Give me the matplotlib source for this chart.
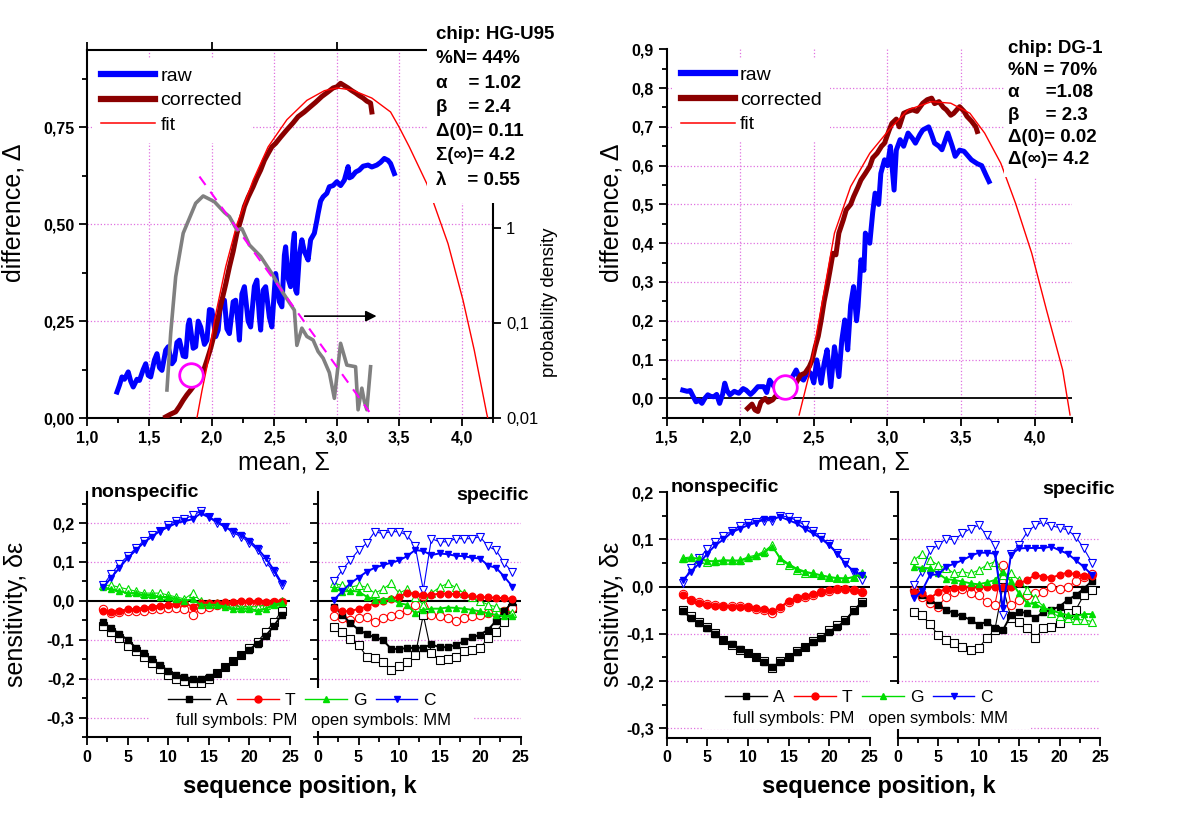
import matplotlib
matplotlib.use('Agg')
import matplotlib.pyplot as plt
from matplotlib.lines import Line2D
from matplotlib.patches import Rectangle
from matplotlib.ticker import MultipleLocator, FuncFormatter, FixedLocator, FixedFormatter, NullLocator

plt.rcParams['font.family'] = ['Liberation Sans', 'DejaVu Sans']

W, H = 1200, 825
fig = plt.figure(figsize=(12, 8.25), dpi=100)

BLUE = '#0000ff'
DRED = '#8b0000'
RED = '#ff0000'
GRAY = '#808080'
MAG = '#ff00ff'
GRID = '#e070e0'

# ---------------- top left: HG-U95 ----------------
hg_raw_x = [1.24, 1.26, 1.28, 1.30, 1.33, 1.35, 1.37, 1.40, 1.42, 1.45, 1.47, 1.49, 1.51, 1.54, 1.56,
            1.58, 1.60, 1.63, 1.65, 1.68, 1.70, 1.72, 1.74, 1.77, 1.79, 1.81, 1.82, 1.85, 1.87, 1.89,
            1.91, 1.94, 1.96, 1.98, 2.00, 2.03, 2.05, 2.07, 2.10, 2.12, 2.14, 2.17, 2.19, 2.21, 2.22,
            2.24, 2.26, 2.29, 2.31, 2.34, 2.36, 2.38, 2.39, 2.41, 2.43, 2.46, 2.48, 2.50, 2.51, 2.54,
            2.56, 2.58, 2.59, 2.61, 2.63, 2.65, 2.66, 2.67, 2.68, 2.70, 2.72, 2.74, 2.77, 2.79, 2.82,
            2.84, 2.85, 2.87, 2.89, 2.92, 2.94, 2.97, 3.00, 3.03, 3.06, 3.09, 3.10, 3.12, 3.15, 3.18,
            3.21, 3.25, 3.28, 3.32, 3.35, 3.38, 3.41, 3.43, 3.46]
hg_raw_y = [0.067, 0.085, 0.106, 0.100, 0.119, 0.095, 0.080, 0.100, 0.097, 0.125, 0.140, 0.110, 0.106, 0.150, 0.166,
            0.130, 0.123, 0.175, 0.184, 0.140, 0.149, 0.195, 0.201, 0.160, 0.158, 0.240, 0.253, 0.180, 0.184, 0.250,
            0.235, 0.190, 0.201, 0.280, 0.278, 0.210, 0.227, 0.300, 0.304, 0.230, 0.218, 0.300, 0.304, 0.240, 0.201,
            0.320, 0.339, 0.250, 0.235, 0.340, 0.356, 0.260, 0.227, 0.330, 0.339, 0.260, 0.235, 0.330, 0.373, 0.300,
            0.287, 0.420, 0.442, 0.360, 0.339, 0.450, 0.477, 0.330, 0.322, 0.420, 0.460, 0.430, 0.408, 0.460, 0.477,
            0.510, 0.528, 0.560, 0.571, 0.580, 0.597, 0.600, 0.610, 0.600, 0.614, 0.649, 0.620, 0.623, 0.635, 0.640,
            0.650, 0.653, 0.648, 0.653, 0.660, 0.670, 0.665, 0.657, 0.631]

hg_cor_x = [1.63, 1.67, 1.71, 1.74, 1.77, 1.80, 1.83, 1.86, 1.90, 1.93, 1.96, 1.99, 2.02, 2.05, 2.08, 2.11,
            2.14, 2.17, 2.20, 2.23, 2.26, 2.29, 2.33, 2.36, 2.39, 2.42, 2.45, 2.48, 2.51, 2.55, 2.60, 2.65,
            2.69, 2.74, 2.79, 2.83, 2.88, 2.93, 2.97, 3.00, 3.03, 3.06, 3.09, 3.12, 3.15, 3.18, 3.21, 3.24,
            3.27, 3.28]
hg_cor_y = [0.003, 0.010, 0.016, 0.030, 0.046, 0.060, 0.072, 0.085, 0.097, 0.120, 0.149, 0.180, 0.218, 0.260, 0.304, 0.345,
            0.390, 0.430, 0.477, 0.510, 0.546, 0.570, 0.597, 0.620, 0.640, 0.665, 0.683, 0.700, 0.709, 0.725, 0.744, 0.762,
            0.778, 0.790, 0.804, 0.815, 0.830, 0.842, 0.852, 0.855, 0.864, 0.858, 0.852, 0.845, 0.839, 0.832, 0.826, 0.818,
            0.813, 0.790]

hg_fit_x = [1.88, 1.92, 1.96, 2.02, 2.11, 2.20, 2.33, 2.45, 2.60, 2.76, 2.90, 3.00, 3.12, 3.28, 3.43, 3.50,
            3.58, 3.72, 3.89, 4.01, 4.10, 4.20, 4.215]
hg_fit_y = [0.000, 0.070, 0.132, 0.252, 0.390, 0.500, 0.614, 0.700, 0.770, 0.820, 0.845, 0.852, 0.847, 0.826, 0.790, 0.750,
            0.700, 0.605, 0.450, 0.304, 0.175, 0.011, -0.010]

hg_dens_x = [1.64, 1.67, 1.71, 1.77, 1.87, 1.93, 2.02, 2.10, 2.14, 2.20, 2.24, 2.30, 2.39, 2.48, 2.57, 2.66,
             2.68, 2.72, 2.76, 2.81, 2.85, 2.89, 2.94, 2.98, 3.03, 3.08, 3.15, 3.17, 3.20, 3.22, 3.24, 3.27]
hg_dens = [0.0197, 0.078, 0.306, 0.877, 1.81, 2.16, 1.88, 1.45, 1.31, 0.95, 0.98, 0.66, 0.50, 0.33, 0.206, 0.136,
           0.058, 0.088, 0.072, 0.066, 0.050, 0.0426, 0.030, 0.0161, 0.061, 0.036, 0.0346, 0.0122, 0.0206, 0.0150, 0.0122, 0.0346]
hg_exp_x = [1.90, 3.26]
hg_exp = [3.46, 0.0116]

hg_mark = (1.835, 0.111)
hg_arrow = (2.72, 3.34, 0.263)

# ---------------- top right: DG-1 ----------------
dg_raw = [(1.61, 0.021), (1.64, 0.018), (1.66, 0.020), (1.68, 0.005), (1.70, -0.009), (1.72, -0.005), (1.74, -0.013),
          (1.76, 0.000), (1.78, 0.009), (1.80, 0.005), (1.82, 0.004), (1.84, 0.010), (1.86, -0.013), (1.88, 0.010),
          (1.895, 0.039), (1.91, 0.020), (1.93, 0.009), (1.96, 0.018), (1.99, 0.013), (2.02, 0.025), (2.04, 0.021),
          (2.07, 0.010), (2.09, 0.017), (2.12, 0.030), (2.16, 0.030), (2.18, 0.015), (2.20, 0.047), (2.23, 0.030),
          (2.26, 0.038), (2.30, 0.030), (2.34, 0.045), (2.38, 0.073), (2.40, 0.055), (2.43, 0.047), (2.46, 0.070),
          (2.48, 0.064), (2.50, 0.040), (2.52, 0.099), (2.55, 0.039), (2.57, 0.090), (2.59, 0.125), (2.615, 0.030),
          (2.64, 0.133), (2.67, 0.056), (2.69, 0.150), (2.71, 0.202), (2.73, 0.125), (2.75, 0.240), (2.77, 0.288),
          (2.79, 0.200), (2.80, 0.236), (2.82, 0.357), (2.84, 0.330), (2.85, 0.426), (2.88, 0.400), (2.90, 0.480),
          (2.916, 0.529), (2.94, 0.500), (2.955, 0.580), (2.98, 0.615), (3.00, 0.600), (3.02, 0.650), (3.045, 0.537),
          (3.06, 0.640), (3.086, 0.667), (3.11, 0.650), (3.14, 0.684), (3.17, 0.670), (3.19, 0.658), (3.22, 0.680),
          (3.24, 0.692), (3.28, 0.700), (3.30, 0.680), (3.32, 0.658), (3.35, 0.650), (3.37, 0.641), (3.41, 0.684),
          (3.44, 0.650), (3.46, 0.624), (3.49, 0.640), (3.52, 0.637), (3.57, 0.615), (3.61, 0.605), (3.64, 0.600),
          (3.67, 0.575), (3.69, 0.559)]
dg_cor = [(2.05, -0.026), (2.08, -0.015), (2.10, -0.030), (2.12, -0.034), (2.14, -0.010), (2.17, 0.000), (2.19, -0.010),
          (2.22, -0.004), (2.25, 0.010), (2.27, 0.017), (2.31, 0.020), (2.35, 0.026), (2.38, 0.040), (2.41, 0.060),
          (2.44, 0.065), (2.47, 0.082), (2.49, 0.100), (2.51, 0.133), (2.53, 0.160), (2.55, 0.202), (2.57, 0.250),
          (2.59, 0.288), (2.61, 0.330), (2.63, 0.374), (2.65, 0.370), (2.67, 0.426), (2.70, 0.460), (2.72, 0.486),
          (2.75, 0.500), (2.77, 0.520), (2.80, 0.545), (2.82, 0.563), (2.85, 0.580), (2.88, 0.598), (2.90, 0.620),
          (2.93, 0.632), (2.96, 0.650), (2.98, 0.658), (3.01, 0.690), (3.03, 0.709), (3.06, 0.720), (3.08, 0.700),
          (3.11, 0.735), (3.14, 0.740), (3.17, 0.744), (3.20, 0.740), (3.24, 0.761), (3.27, 0.770), (3.30, 0.774),
          (3.32, 0.760), (3.35, 0.765), (3.38, 0.750), (3.40, 0.744), (3.43, 0.730), (3.45, 0.735), (3.49, 0.752),
          (3.52, 0.740), (3.54, 0.727), (3.57, 0.715), (3.60, 0.700), (3.61, 0.688)]
dg_fit = [(2.40, -0.043), (2.47, 0.064), (2.56, 0.254), (2.64, 0.426), (2.75, 0.546), (2.88, 0.632), (3.01, 0.692),
          (3.14, 0.744), (3.30, 0.765), (3.43, 0.761), (3.56, 0.735), (3.66, 0.684), (3.77, 0.606), (3.87, 0.503),
          (3.98, 0.374), (4.08, 0.228), (4.19, 0.073), (4.24, -0.043)]
dg_mark = (2.306, 0.028)

hg_info = ['chip: HG-U95', '%N= 44%', 'α    = 1.02', 'β    = 2.4',
           'Δ(0)= 0.11', 'Σ(∞)= 4.2', 'λ    = 0.55']
dg_info = ['chip: DG-1', '%N = 70%', 'α     =1.08', 'β     = 2.3',
           'Δ(0)= 0.02', 'Δ(∞)= 4.2']

# ---------------- bottom: sensitivity profiles ----------------
k = list(range(2, 25))
bases = ['A', 'T', 'G', 'C']
base_col = {'A': 'black', 'T': '#ff0000', 'G': '#00dd00', 'C': '#0000ff'}
base_mk = {'A': 's', 'T': 'o', 'G': '^', 'C': 'v'}

hg_ns_pm = {
    'A': [-0.055, -0.070, -0.085, -0.100, -0.120, -0.135, -0.150, -0.165, -0.180, -0.190, -0.195, -0.200, -0.200, -0.195, -0.185, -0.170, -0.155, -0.140, -0.125, -0.110, -0.090, -0.065, -0.035],
    'T': [-0.025, -0.028, -0.025, -0.022, -0.020, -0.018, -0.015, -0.012, -0.010, -0.008, -0.005, -0.015, -0.005, -0.005, -0.005, -0.003, -0.002, 0.000, 0.000, 0.000, -0.002, -0.003, -0.003],
    'G': [0.035, 0.030, 0.025, 0.020, 0.020, 0.015, 0.015, 0.010, 0.010, 0.005, 0.000, 0.005, -0.010, -0.010, -0.010, -0.015, -0.020, -0.020, -0.020, -0.025, -0.020, -0.010, -0.005],
    'C': [0.035, 0.060, 0.085, 0.110, 0.130, 0.150, 0.165, 0.180, 0.190, 0.200, 0.205, 0.210, 0.225, 0.215, 0.205, 0.190, 0.180, 0.170, 0.155, 0.135, 0.110, 0.080, 0.045],
}
hg_ns_mm = {
    'A': [-0.065, -0.080, -0.095, -0.115, -0.130, -0.145, -0.160, -0.175, -0.190, -0.200, -0.205, -0.210, -0.210, -0.200, -0.185, -0.170, -0.155, -0.140, -0.120, -0.105, -0.080, -0.055, -0.025],
    'T': [-0.022, -0.030, -0.028, -0.027, -0.025, -0.025, -0.022, -0.020, -0.018, -0.018, -0.020, -0.035, -0.022, -0.015, -0.010, -0.010, -0.008, -0.005, -0.005, -0.003, -0.005, -0.003, -0.003],
    'G': [0.040, 0.040, 0.035, 0.030, 0.025, 0.020, 0.020, 0.020, 0.015, 0.010, 0.005, 0.020, 0.000, -0.005, -0.005, -0.005, -0.010, -0.015, -0.015, -0.015, -0.010, -0.005, 0.000],
    'C': [0.040, 0.070, 0.095, 0.115, 0.135, 0.155, 0.170, 0.180, 0.195, 0.205, 0.210, 0.220, 0.230, 0.215, 0.200, 0.190, 0.175, 0.165, 0.150, 0.130, 0.100, 0.075, 0.040],
}
hg_sp_pm = {
    'A': [-0.015, -0.036, -0.057, -0.074, -0.085, -0.094, -0.100, -0.123, -0.124, -0.121, -0.121, -0.120, -0.112, -0.119, -0.119, -0.113, -0.104, -0.094, -0.087, -0.074, -0.051, -0.027, -0.002],
    'T': [-0.019, -0.026, -0.027, -0.020, -0.015, -0.006, 0.000, 0.005, 0.011, 0.020, 0.018, 0.015, 0.015, 0.019, 0.019, 0.017, 0.015, 0.012, 0.010, 0.009, 0.008, 0.007, 0.005],
    'G': [0.032, 0.024, 0.026, 0.024, 0.011, 0.003, 0.003, 0.007, -0.006, -0.010, -0.032, -0.023, -0.020, -0.020, -0.017, -0.018, -0.020, -0.023, -0.027, -0.032, -0.036, -0.040, -0.038],
    'C': [0.003, 0.025, 0.045, 0.060, 0.075, 0.085, 0.092, 0.098, 0.104, 0.115, 0.131, 0.128, 0.118, 0.122, 0.120, 0.116, 0.115, 0.111, 0.109, 0.091, 0.085, 0.062, 0.037],
}
hg_sp_mm = {
    'A': [-0.066, -0.080, -0.097, -0.113, -0.143, -0.147, -0.156, -0.177, -0.168, -0.156, -0.140, -0.036, -0.134, -0.151, -0.149, -0.143, -0.130, -0.126, -0.121, -0.096, -0.079, -0.053, -0.019],
    'T': [-0.038, -0.043, -0.049, -0.045, -0.042, -0.053, -0.045, -0.038, -0.033, -0.023, -0.010, 0.012, -0.036, -0.040, -0.045, -0.051, -0.045, -0.038, -0.035, -0.030, -0.030, -0.025, -0.017],
    'G': [0.045, 0.040, 0.035, 0.040, 0.035, 0.020, 0.030, 0.045, 0.020, 0.030, 0.010, -0.010, 0.020, 0.035, 0.045, 0.035, 0.020, 0.010, 0.000, -0.010, -0.015, -0.025, -0.030],
    'C': [0.050, 0.080, 0.105, 0.130, 0.148, 0.178, 0.173, 0.178, 0.178, 0.169, 0.140, 0.028, 0.160, 0.152, 0.152, 0.160, 0.160, 0.160, 0.165, 0.140, 0.130, 0.097, 0.074],
}
dg_ns_pm = {
    'A': [-0.052, -0.066, -0.078, -0.088, -0.100, -0.112, -0.122, -0.132, -0.140, -0.150, -0.160, -0.170, -0.160, -0.150, -0.138, -0.128, -0.118, -0.108, -0.095, -0.085, -0.072, -0.052, -0.035],
    'T': [-0.018, -0.029, -0.034, -0.038, -0.040, -0.041, -0.042, -0.042, -0.043, -0.046, -0.048, -0.052, -0.044, -0.030, -0.024, -0.020, -0.016, -0.011, -0.008, -0.005, -0.005, -0.008, -0.012],
    'G': [0.058, 0.060, 0.060, 0.055, 0.053, 0.055, 0.055, 0.055, 0.060, 0.064, 0.072, 0.085, 0.060, 0.048, 0.038, 0.032, 0.028, 0.024, 0.020, 0.018, 0.017, 0.020, 0.026],
    'C': [0.014, 0.032, 0.049, 0.070, 0.088, 0.100, 0.115, 0.123, 0.130, 0.136, 0.143, 0.144, 0.148, 0.141, 0.134, 0.123, 0.113, 0.102, 0.088, 0.070, 0.049, 0.033, 0.025],
}
dg_ns_mm = {
    'A': [-0.049, -0.063, -0.074, -0.085, -0.099, -0.113, -0.124, -0.134, -0.141, -0.148, -0.158, -0.172, -0.158, -0.148, -0.137, -0.127, -0.116, -0.106, -0.092, -0.081, -0.070, -0.049, -0.032],
    'T': [-0.016, -0.028, -0.033, -0.037, -0.039, -0.040, -0.040, -0.041, -0.042, -0.047, -0.049, -0.056, -0.046, -0.032, -0.025, -0.021, -0.018, -0.012, -0.009, -0.005, -0.004, -0.007, -0.011],
    'G': [0.061, 0.063, 0.058, 0.053, 0.055, 0.057, 0.056, 0.056, 0.063, 0.067, 0.075, 0.089, 0.056, 0.046, 0.035, 0.030, 0.028, 0.025, 0.021, 0.019, 0.018, 0.021, 0.030],
    'C': [0.008, 0.040, 0.060, 0.080, 0.095, 0.108, 0.118, 0.128, 0.135, 0.138, 0.140, 0.140, 0.150, 0.148, 0.140, 0.130, 0.118, 0.105, 0.090, 0.072, 0.052, 0.030, 0.015],
}
dg_sp_pm = {
    'A': [-0.011, -0.018, -0.028, -0.039, -0.049, -0.056, -0.063, -0.070, -0.081, -0.074, -0.088, -0.092, -0.060, -0.053, -0.056, -0.067, -0.053, -0.049, -0.042, -0.028, -0.018, -0.004, 0.012],
    'T': [-0.011, -0.014, -0.025, -0.011, -0.005, -0.002, 0.000, 0.000, 0.000, 0.000, 0.000, 0.000, 0.000, 0.007, 0.014, 0.025, 0.021, 0.019, 0.025, 0.030, 0.026, 0.023, 0.023],
    'G': [0.042, 0.040, 0.039, 0.028, 0.016, 0.014, 0.011, 0.007, 0.005, 0.009, 0.014, 0.032, 0.011, -0.014, -0.035, -0.037, -0.046, -0.049, -0.056, -0.060, -0.063, -0.058, -0.058],
    'C': [-0.025, -0.009, 0.025, 0.026, 0.042, 0.049, 0.056, 0.065, 0.072, 0.072, 0.070, -0.045, 0.068, 0.081, 0.082, 0.082, 0.082, 0.085, 0.077, 0.070, 0.056, 0.042, 0.025],
}
dg_sp_mm = {
    'A': [-0.053, -0.060, -0.080, -0.102, -0.113, -0.120, -0.127, -0.134, -0.130, -0.109, -0.092, 0.000, -0.067, -0.074, -0.088, -0.109, -0.088, -0.085, -0.077, -0.056, -0.049, -0.018, -0.007],
    'T': [-0.007, -0.021, -0.035, -0.042, -0.021, -0.011, -0.004, -0.014, -0.018, -0.032, -0.039, 0.046, -0.039, -0.028, -0.018, -0.014, -0.011, 0.000, -0.004, 0.000, 0.011, 0.021, 0.026],
    'G': [0.056, 0.070, 0.056, 0.046, 0.039, 0.028, 0.032, 0.028, 0.035, 0.046, 0.053, 0.025, 0.028, 0.014, -0.007, -0.025, -0.042, -0.056, -0.063, -0.067, -0.070, -0.070, -0.074],
    'C': [0.004, 0.032, 0.077, 0.088, 0.102, 0.099, 0.113, 0.123, 0.130, 0.109, 0.088, -0.060, 0.070, 0.088, 0.116, 0.130, 0.137, 0.129, 0.125, 0.120, 0.106, 0.081, 0.051],
}


def rect(x0, y0, x1, y1):
    # pixel box (origin top-left) -> figure fraction rect
    return [x0 / W, 1 - y1 / H, (x1 - x0) / W, (y1 - y0) / H]


def comma(fmt):
    return FuncFormatter(lambda v, p: fmt.format(round(v, 6) + 0.0).replace('.', ','))


def style(ax, xmaj, xmin, ymaj, ymin, xfmt, yfmt):
    for s in ['top', 'right']:
        ax.spines[s].set_visible(False)
    for s in ['left', 'bottom']:
        ax.spines[s].set_linewidth(1.5)
    ax.xaxis.set_major_locator(MultipleLocator(xmaj))
    ax.xaxis.set_minor_locator(MultipleLocator(xmin))
    ax.yaxis.set_major_locator(MultipleLocator(ymaj))
    ax.yaxis.set_minor_locator(MultipleLocator(ymin))
    ax.xaxis.set_major_formatter(comma(xfmt))
    ax.yaxis.set_major_formatter(comma(yfmt))
    ax.tick_params(which='both', direction='out', width=1.3, labelsize=11.5, pad=3)
    ax.tick_params(which='major', length=6)
    ax.tick_params(which='minor', length=3.5)


def fig_text(x, y, s, **kw):
    return fig.text(x / W, 1 - y / H, s, **kw)


def white_box(x0, y0, x1, y1):
    fig.patches.append(Rectangle((x0 / W, 1 - y1 / H), (x1 - x0) / W, (y1 - y0) / H,
                                 transform=fig.transFigure, facecolor='white',
                                 edgecolor='none', zorder=4))


def top_legend(ax, anchor):
    h = [Line2D([], [], color=BLUE, lw=4.5, label='raw'),
         Line2D([], [], color=DRED, lw=4.5, label='corrected'),
         Line2D([], [], color=RED, lw=1.1, label='fit')]
    ax.legend(handles=h, loc='upper left', bbox_to_anchor=anchor, borderaxespad=0,
              frameon=True, facecolor='white', edgecolor='none', framealpha=1,
              fontsize=14, handlelength=2.8, handletextpad=0.25, labelspacing=0.36,
              borderpad=0.45)


# ---- top-left axes
ax1 = fig.add_axes(rect(87, 50, 493, 418))
style(ax1, 0.5, 0.25, 0.25, 0.125, '{:.1f}', '{:.2f}')
ax1.set_xlim(1.0, 4.25)
ax1.set_ylim(0, 0.95)
for gx in [1.5, 2.0, 2.5, 3.0, 3.5, 4.0]:
    ax1.axvline(gx, color=GRID, ls=':', lw=0.9, zorder=0)
for gy in [0.25, 0.5, 0.75]:
    ax1.axhline(gy, color=GRID, ls=':', lw=0.9, zorder=0)
ax1.plot(hg_raw_x, hg_raw_y, color=BLUE, lw=3.6, zorder=3)
ax1.plot(hg_cor_x, hg_cor_y, color=DRED, lw=3.6, zorder=4)
ax1.plot(hg_fit_x, hg_fit_y, color=RED, lw=1.0, zorder=5)
ax1.plot([hg_mark[0]], [hg_mark[1]], 'o', ms=17, mfc='white', mec=MAG, mew=2, zorder=8)
ax1.annotate('', xy=(hg_arrow[1], hg_arrow[2]), xytext=(hg_arrow[0], hg_arrow[2]),
             arrowprops=dict(arrowstyle='-|>', color='black', lw=1.2, mutation_scale=16))
top1 = ax1.secondary_xaxis('top')
top1.set_xticks([1.0, 2.0, 3.0])
top1.set_xticklabels([])
top1.tick_params(direction='out', length=6, width=1.3)
top1.spines['top'].set_linewidth(1.5)
top_legend(ax1, (0.013, 0.977))

ax1b = ax1.twinx()
ax1b.set_yscale('log')
ax1b.set_ylim(0.01, 74)
for s in ['left', 'top', 'bottom']:
    ax1b.spines[s].set_visible(False)
ax1b.spines['right'].set_linewidth(1.5)
ax1b.spines['right'].set_bounds(0.01, 1.8)
ax1b.yaxis.set_major_locator(FixedLocator([0.01, 0.1, 1]))
ax1b.yaxis.set_major_formatter(FixedFormatter(['0,01', '0,1', '1']))
ax1b.yaxis.set_minor_locator(NullLocator())
ax1b.tick_params(direction='out', length=6, width=1.3, labelsize=12)
ax1b.plot(hg_dens_x, hg_dens, color=GRAY, lw=2.6)
ax1b.plot(hg_exp_x, hg_exp, color=MAG, lw=1.5, ls=(0, (5, 4)))

# ---- top-right axes
ax2 = fig.add_axes(rect(666.6, 49.3, 1071.5, 417.7))
style(ax2, 0.5, 0.25, 0.1, 0.05, '{:.1f}', '{:.1f}')
ax2.set_xlim(1.5, 4.25)
ax2.set_ylim(-0.05, 0.9)
for gx in [2.0, 2.5, 3.0, 3.5, 4.0]:
    ax2.axvline(gx, color=GRID, ls=':', lw=0.9, zorder=0)
for gy in [0.1, 0.2, 0.3, 0.4, 0.5, 0.6, 0.7, 0.8]:
    ax2.axhline(gy, color=GRID, ls=':', lw=0.9, zorder=0)
ax2.axhline(0, color='black', lw=1.3, zorder=1)
ax2.plot([p[0] for p in dg_raw], [p[1] for p in dg_raw], color=BLUE, lw=3.6, zorder=3)
ax2.plot([p[0] for p in dg_cor], [p[1] for p in dg_cor], color=DRED, lw=3.6, zorder=4)
ax2.plot([p[0] for p in dg_fit], [p[1] for p in dg_fit], color=RED, lw=1.0, zorder=5)
ax2.plot([dg_mark[0]], [dg_mark[1]], 'o', ms=17, mfc='white', mec=MAG, mew=2, zorder=8)
top_legend(ax2, (0.013, 0.977))

# info boxes
white_box(427, 8, 548, 203)
white_box(1004, 26, 1112, 177)
for i, line in enumerate(hg_info):
    fig_text(436, 39 + i * 24.3, line, fontsize=13.5, fontweight='bold', va='baseline', zorder=6)
for i, line in enumerate(dg_info):
    fig_text(1008, 53 + i * 22.2, line, fontsize=13.5, fontweight='bold', va='baseline', zorder=6)

# axis labels of the top panels
fig_text(14, 213, 'difference, Δ', rotation=90, ha='center', va='center', fontsize=18)
fig_text(612, 213, 'difference, Δ', rotation=90, ha='center', va='center', fontsize=18)
fig_text(284, 463, 'mean, Σ', ha='center', va='center', fontsize=18)
fig_text(864, 463, 'mean, Σ', ha='center', va='center', fontsize=18)
fig_text(550, 302, 'probability density', rotation=90, ha='center', va='center', fontsize=13.5)

# ---- bottom panels
bottom_sets = [
    (rect(87, 492, 290, 737), hg_ns_pm, hg_ns_mm, (-0.35, 0.28), [0.2, 0.1, -0.1, -0.2, -0.3], True),
    (rect(318, 492, 520.5, 737), hg_sp_pm, hg_sp_mm, (-0.35, 0.28), [0.2, 0.1, -0.1, -0.2, -0.3], False),
    (rect(666.6, 492.3, 869.8, 737.7), dg_ns_pm, dg_ns_mm, (-0.32, 0.2), [0.1, -0.1, -0.2, -0.3], True),
    (rect(897.7, 492.3, 1100, 737.7), dg_sp_pm, dg_sp_mm, (-0.32, 0.2), [0.1, -0.1, -0.2, -0.3], False),
]
bottom_axes = []
for pos, pm, mm, ylim, grid_y, show_lab in bottom_sets:
    ax = fig.add_axes(pos)
    style(ax, 5, 2.5, 0.1, 0.05, '{:.0f}', '{:.1f}')
    ax.set_xlim(0, 25)
    ax.set_ylim(*ylim)
    for gy in grid_y:
        ax.axhline(gy, color=GRID, ls=':', lw=0.9, zorder=0)
    ax.axhline(0, color='black', lw=1.5, zorder=1)
    if not show_lab:
        ax.tick_params(labelleft=False)
    for b in bases:
        c = base_col[b]
        m = base_mk[b]
        ax.plot(k, mm[b], color=c, marker=m, ms=6, lw=0.8, mfc='white', mec=c, mew=0.8, zorder=2)
        ax.plot(k, pm[b], color=c, marker=m, ms=4.8, lw=1.4, mfc=c, mec=c, zorder=3)
    bottom_axes.append(ax)

# legends of the bottom panels
for box, cx, cy, tx, ty in [((149, 688, 473, 731), 302, 700, 176, 721),
                            ((703, 684, 1030, 729), 859, 697, 733, 718)]:
    white_box(*box)
    hs = [Line2D([], [], color=base_col[b], marker=base_mk[b], ms=5, lw=1.0, label=b) for b in bases]
    fig.legend(handles=hs, loc='center', bbox_to_anchor=(cx / W, 1 - cy / H), ncol=4,
               frameon=False, fontsize=12.5, handlelength=2.4, handletextpad=0.35,
               columnspacing=0.55, borderpad=0.1)
    fig_text(tx, ty, 'full symbols: PM   open symbols: MM', fontsize=12, va='center', zorder=6)

fig_text(91, 493, 'nonspecific', fontsize=14, fontweight='bold', va='center')
fig_text(529, 495, 'specific', fontsize=14, fontweight='bold', va='center', ha='right')
fig_text(671, 487, 'nonspecific', fontsize=14, fontweight='bold', va='center')
fig_text(1115, 489, 'specific', fontsize=14, fontweight='bold', va='center', ha='right')
fig_text(16, 614, 'sensitivity, δε', rotation=90, ha='center', va='center', fontsize=18)
fig_text(612, 614, 'sensitivity, δε', rotation=90, ha='center', va='center', fontsize=18)
fig_text(300, 786, 'sequence position, k', ha='center', va='center', fontsize=17, fontweight='bold')
fig_text(879, 786, 'sequence position, k', ha='center', va='center', fontsize=17, fontweight='bold')

for ax in [ax1, ax2] + bottom_axes:
    for lab in ax.get_xticklabels() + ax.get_yticklabels():
        lab.set_fontweight('bold')

fig.savefig('out.png', dpi=100, facecolor='white')
